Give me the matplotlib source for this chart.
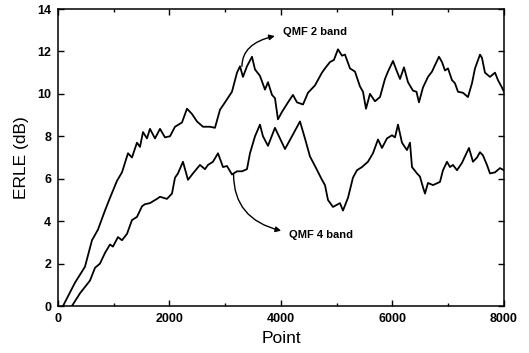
import matplotlib
matplotlib.use("Agg")
import matplotlib.pyplot as plt
from matplotlib.ticker import MultipleLocator

plt.rcParams['font.family'] = ['Liberation Sans', 'DejaVu Sans']

# Valores (punto, ERLE en dB)
x_2band = [90, 305, 484, 610, 717, 843, 933, 1058, 1148, 1256, 1327, 1417, 1471, 1525,
           1596, 1650, 1740, 1830, 1919, 2009, 2099, 2224, 2314, 2404, 2493, 2601, 2726,
           2816, 2906, 2996, 3121, 3211, 3265, 3318, 3390, 3480, 3534, 3623, 3713, 3767,
           3839, 3892, 3946, 4018, 4126, 4215, 4287, 4395, 4484, 4610, 4735, 4789, 4879,
           4950, 5022, 5094, 5148, 5238, 5327, 5417, 5471, 5525, 5596, 5686, 5776, 5865,
           5919, 6009, 6081, 6135, 6206, 6278, 6368, 6430, 6475, 6547, 6637, 6709, 6762,
           6834, 6888, 6942, 6996, 7067, 7121, 7175, 7265, 7354, 7426, 7480, 7570, 7605,
           7659, 7749, 7839, 7892, 7964, 8000]
y_2band = [0.0, 1.1, 1.85, 3.1, 3.6, 4.5, 5.1, 5.9, 6.3, 7.2, 7.0, 7.7, 7.5, 8.2,
           7.9, 8.35, 7.9, 8.35, 7.95, 8.0, 8.45, 8.65, 9.3, 9.05, 8.7, 8.45, 8.45,
           8.4, 9.25, 9.6, 10.1, 11.0, 11.3, 10.8, 11.3, 11.75, 11.15, 10.85, 10.2, 10.55,
           9.95, 9.8, 8.8, 9.15, 9.6, 9.95, 9.6, 9.5, 10.05, 10.4, 11.0, 11.2, 11.5,
           11.6, 12.1, 11.8, 11.85, 11.2, 11.05, 10.35, 10.1, 9.3, 10.0, 9.65, 9.85, 10.7,
           11.05, 11.55, 11.05, 10.7, 11.25, 10.55, 10.15, 10.1, 9.6, 10.3, 10.8, 11.05, 11.35,
           11.75, 11.5, 11.1, 11.2, 10.65, 10.5, 10.1, 10.05, 9.85, 10.5, 11.2, 11.85, 11.7,
           11.0, 10.8, 11.0, 10.65, 10.3, 10.1]

x_4band = [250, 395, 574, 664, 753, 843, 933, 986, 1076, 1148, 1238, 1327, 1417, 1507,
           1560, 1650, 1776, 1830, 1955, 2045, 2099, 2152, 2242, 2332, 2421, 2547, 2637,
           2690, 2780, 2870, 2960, 3031, 3121, 3211, 3300, 3390, 3444, 3534, 3623, 3677,
           3767, 3892, 3982, 4072, 4197, 4341, 4430, 4520, 4610, 4735, 4789, 4843, 4933,
           5058, 5112, 5202, 5291, 5363, 5453, 5560, 5650, 5740, 5812, 5901, 5991, 6045,
           6099, 6170, 6260, 6314, 6350, 6440, 6493, 6547, 6583, 6637, 6727, 6852, 6906,
           6978, 7031, 7085, 7157, 7247, 7300, 7372, 7444, 7516, 7570, 7623, 7695, 7749,
           7839, 7928, 8000]
y_4band = [0.0, 0.6, 1.2, 1.8, 2.0, 2.5, 2.9, 2.8, 3.25, 3.1, 3.4, 4.05, 4.2, 4.7,
           4.8, 4.85, 5.05, 5.15, 5.05, 5.3, 6.05, 6.25, 6.8, 5.95, 6.25, 6.65, 6.45,
           6.65, 6.8, 7.2, 6.55, 6.6, 6.2, 6.35, 6.35, 6.45, 7.2, 8.0, 8.55, 8.0,
           7.55, 8.4, 7.9, 7.4, 8.0, 8.7, 7.9, 7.05, 6.6, 5.95, 5.7, 5.0, 4.67,
           4.85, 4.5, 5.1, 6.05, 6.4, 6.55, 6.8, 7.2, 7.85, 7.45, 7.9, 8.05, 7.95,
           8.55, 7.7, 7.35, 7.7, 6.55, 6.25, 6.1, 5.6, 5.3, 5.8, 5.7, 5.85, 6.4,
           6.8, 6.55, 6.65, 6.4, 6.75, 7.05, 7.45, 6.8, 7.0, 7.25, 7.1, 6.65, 6.25,
           6.3, 6.5, 6.4]

fig = plt.figure(figsize=(5.29, 3.53), dpi=100, facecolor='w')
ax = fig.add_axes([0.1096, 0.1331, 0.8431, 0.8414])

ax.plot(x_2band, y_2band, c='k', lw=1.3)
ax.plot(x_4band, y_4band, c='k', lw=1.3)

ax.set_xlim(0, 8000)
ax.set_ylim(0, 14)
ax.xaxis.set_major_locator(MultipleLocator(2000))
ax.xaxis.set_minor_locator(MultipleLocator(1000))
ax.yaxis.set_major_locator(MultipleLocator(2))

ax.tick_params(axis='both', which='major', direction='in', length=4, width=1,
               labelsize=9, pad=5, top=True, right=True)
ax.tick_params(axis='x', which='minor', direction='in', length=2.5, width=1,
               top=True, bottom=True)
for lab in ax.get_xticklabels() + ax.get_yticklabels():
    lab.set_fontweight('bold')
for s in ax.spines.values():
    s.set_linewidth(1.1)

ax.set_xlabel('Point', fontsize=12.5, labelpad=4)
ax.set_ylabel('ERLE (dB)', fontsize=12.5, labelpad=6)

# Anotaciones con flecha curva
ax.annotate('QMF 2 band', xy=(3300, 11.3), xytext=(4036, 12.9),
            fontsize=8, fontweight='bold', ha='left', va='center',
            arrowprops=dict(arrowstyle='<|-', color='k', lw=1.0, mutation_scale=8,
                            shrinkA=4, shrinkB=0,
                            connectionstyle='angle3,angleA=0,angleB=90'))
ax.annotate('QMF 4 band', xy=(3150, 6.2), xytext=(4150, 3.35),
            fontsize=8, fontweight='bold', ha='left', va='center',
            arrowprops=dict(arrowstyle='<|-', color='k', lw=1.0, mutation_scale=8,
                            shrinkA=4, shrinkB=0,
                            connectionstyle='angle3,angleA=0,angleB=90'))

fig.savefig('out.png', dpi=100, facecolor='w')
plt.close(fig)
